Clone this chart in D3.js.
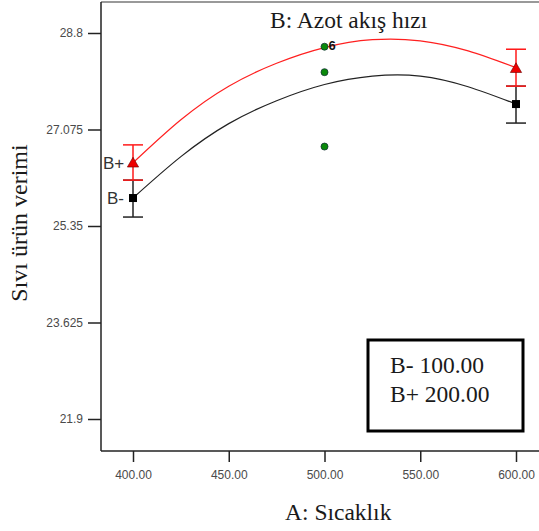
<!DOCTYPE html>
<meta charset="utf-8">
<style>
body { margin: 0; background: #fff; }
.tick text { font-family: "Liberation Sans", Arial, sans-serif; font-size: 12px; fill: #4a4a4a; }
.tick line { stroke: #222; stroke-width: 1.5; }
.serif { font-family: "Liberation Serif", "Times New Roman", serif; fill: #1a1a1a; }
</style>
<svg width="539" height="531"></svg>
<script src="https://d3js.org/d3.v7.min.js"></script>
<script>
"use strict";

// x ticks / y ticks
var xTicks = [400, 450, 500, 550, 600];
var yTicks = [21.9, 23.625, 25.35, 27.075, 28.8];

// fitted curves, every 25 units of A
var curveX = [400, 425, 450, 475, 500, 525, 550, 575, 600];
var curveBplus = [26.48, 27.25, 27.85, 28.26, 28.54, 28.68, 28.66, 28.48, 28.18];
var curveBminus = [25.85, 26.59, 27.18, 27.59, 27.88, 28.03, 28.03, 27.84, 27.53];

// predicted points with error bars (low, high)
var pointX = [400, 600];
var bPlus = [26.48, 28.17];
var bPlusLo = [26.17, 27.85];
var bPlusHi = [26.80, 28.51];
var bMinus = [25.85, 27.53];
var bMinusLo = [25.51, 27.19];
var bMinusHi = [26.17, 27.85];

// design points (green)
var designX = [500, 500, 500];
var designY = [28.555, 28.10, 26.77];

var svg = d3.select("svg");

var frameLeft = 101, frameBottom = 451, frameTop = 2;

var x = d3.scaleLinear().domain([400, 600]).range([133, 516]);
var y = d3.scaleLinear().domain([21.9, 28.8]).range([419, 33]);

// frame
svg.append("line").attr("x1", frameLeft).attr("x2", 539).attr("y1", frameTop).attr("y2", frameTop)
  .attr("stroke", "#777").attr("stroke-width", 1.5);
svg.append("line").attr("x1", frameLeft).attr("x2", frameLeft).attr("y1", frameTop).attr("y2", frameBottom)
  .attr("stroke", "#222").attr("stroke-width", 1.5);
svg.append("line").attr("x1", frameLeft).attr("x2", 539).attr("y1", frameBottom).attr("y2", frameBottom)
  .attr("stroke", "#222").attr("stroke-width", 1.5);

// axes
var yAxis = d3.axisLeft(y).tickValues(yTicks).tickSize(13).tickPadding(5)
  .tickFormat(function(d) { return String(d); });
svg.append("g").attr("transform", "translate(" + frameLeft + ",0)").call(yAxis)
  .call(function(g) { g.select(".domain").remove(); });

var xAxis = d3.axisBottom(x).tickValues(xTicks).tickSize(11).tickPadding(8)
  .tickFormat(d3.format(".2f"));
svg.append("g").attr("transform", "translate(0," + frameBottom + ")").call(xAxis)
  .call(function(g) { g.select(".domain").remove(); });

// curves
var line = d3.line()
  .x(function(d) { return x(d[0]); })
  .y(function(d) { return y(d[1]); })
  .curve(d3.curveNatural);

svg.append("path").datum(d3.zip(curveX, curveBminus))
  .attr("d", line).attr("fill", "none").attr("stroke", "#222").attr("stroke-width", 1.2);
svg.append("path").datum(d3.zip(curveX, curveBplus))
  .attr("d", line).attr("fill", "none").attr("stroke", "#ff2020").attr("stroke-width", 1.2);

// error bars
function errBars(lo, hi, color) {
  var g = svg.append("g").attr("stroke", color).attr("stroke-width", 1.5);
  pointX.forEach(function(px, i) {
    g.append("line").attr("x1", x(px)).attr("x2", x(px)).attr("y1", y(lo[i])).attr("y2", y(hi[i]));
    [lo[i], hi[i]].forEach(function(v) {
      g.append("line").attr("x1", x(px) - 10).attr("x2", x(px) + 10).attr("y1", y(v)).attr("y2", y(v));
    });
  });
}
errBars(bMinusLo, bMinusHi, "#222");
errBars(bPlusLo, bPlusHi, "#ff1a1a");

// markers
svg.append("g").selectAll("rect").data(d3.zip(pointX, bMinus)).enter().append("rect")
  .attr("x", function(d) { return x(d[0]) - 4; })
  .attr("y", function(d) { return y(d[1]) - 4; })
  .attr("width", 8).attr("height", 8).attr("fill", "#000");

svg.append("g").selectAll("path").data(d3.zip(pointX, bPlus)).enter().append("path")
  .attr("d", d3.symbol(d3.symbolTriangle, 55))
  .attr("transform", function(d) { return "translate(" + x(d[0]) + "," + (y(d[1]) + 1) + ")"; })
  .attr("fill", "#ee0000").attr("stroke", "#600").attr("stroke-width", 0.6);

svg.append("g").selectAll("circle").data(d3.zip(designX, designY)).enter().append("circle")
  .attr("cx", function(d) { return x(d[0]); })
  .attr("cy", function(d) { return y(d[1]); })
  .attr("r", 3.5).attr("fill", "#0a8a0a").attr("stroke", "#133").attr("stroke-width", 0.8);

svg.append("text").attr("x", x(500) + 4).attr("y", y(designY[0]) + 3)
  .attr("font-family", "Liberation Sans, Arial, sans-serif").attr("font-size", 13)
  .attr("font-weight", "bold").attr("fill", "#111").text("6");

// B+ / B- labels
svg.append("text").attr("x", 103).attr("y", y(bPlus[0]) + 6)
  .attr("font-family", "Liberation Sans, Arial, sans-serif").attr("font-size", 17)
  .attr("fill", "#333").text("B+");
svg.append("text").attr("x", 107).attr("y", y(bMinus[0]) + 6)
  .attr("font-family", "Liberation Sans, Arial, sans-serif").attr("font-size", 17)
  .attr("fill", "#333").text("B-");

// titles
svg.append("text").attr("class", "serif").attr("x", 270).attr("y", 28)
  .attr("font-size", 23.5).text("B: Azot akış hızı");
svg.append("text").attr("class", "serif").attr("x", 285).attr("y", 520)
  .attr("font-size", 23.5).text("A: Sıcaklık");
svg.append("text").attr("class", "serif")
  .attr("transform", "translate(27,223) rotate(-90)")
  .attr("text-anchor", "middle").attr("font-size", 24).text("Sıvı ürün verimi");

// legend box
svg.append("rect").attr("x", 368).attr("y", 340).attr("width", 155).attr("height", 91)
  .attr("fill", "#fff").attr("stroke", "#000").attr("stroke-width", 3);
svg.append("text").attr("class", "serif").attr("x", 390).attr("y", 373)
  .attr("font-size", 23.5).text("B- 100.00");
svg.append("text").attr("class", "serif").attr("x", 390).attr("y", 402)
  .attr("font-size", 23.5).text("B+ 200.00");
</script>
